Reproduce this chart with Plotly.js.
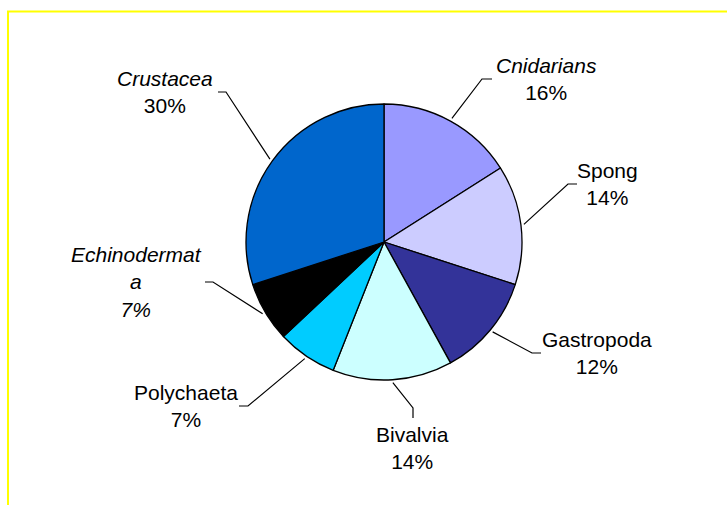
<!DOCTYPE html>
<html>
<head>
<meta charset="utf-8">
<script src="https://cdn.plot.ly/plotly-3.0.1.min.js"></script>
<style>html,body{margin:0;padding:0;background:#fff;}#chart{width:727px;height:505px;}</style>
</head>
<body>
<div id="chart"></div>
<script>
// ---- data ----
const categories = ["Cnidarians", "Spong", "Gastropoda", "Bivalvia", "Polychaeta", "Echinodermata", "Crustacea"];
const values = [16, 14, 12, 14, 7, 7, 30];
const percentLabels = ["16%", "14%", "12%", "14%", "7%", "7%", "30%"];
const displayNames = ["Cnidarians", "Spong", "Gastropoda", "Bivalvia", "Polychaeta", "Echinodermat<br>a", "Crustacea"];
const italicFlags = [true, false, false, false, false, true, true];
const italicPercent = [false, false, false, false, false, true, false];

// ---- style ----
const colors = ["#9999FF", "#CCCCFF", "#333399", "#CCFFFF", "#00CCFF", "#000000", "#0066CC"];
const W = 727, H = 505;
const cx = 384, cy = 242, R = 138;
// label placement (pixels): text centre x, elbow point, and end of short tick
const labelLayout = [
  {tx: 546, elbow: [482, 79], tick: [492, 79]},
  {tx: 607, elbow: [568, 184], tick: [577, 184]},
  {tx: 597, elbow: [532, 353], tick: [541, 353]},
  {tx: 412, elbow: [413, 408], tick: [413, 418], below: true},
  {tx: 186, elbow: [248, 406], tick: [239, 406]},
  {tx: 136, elbow: [213, 282], tick: [205, 282]},
  {tx: 165, elbow: [226, 92], tick: [218, 92]}
];

const px = x => x / W;
const py = y => 1 - y / H;

const total = values.reduce((a, b) => a + b, 0);
let cum = 0;
const shapes = [];
const annotations = [];
values.forEach((v, i) => {
  const mid = (cum + v / 2) / total * 2 * Math.PI;
  cum += v;
  const ex = cx + (R + 3) * Math.sin(mid);
  const ey = cy - (R + 3) * Math.cos(mid);
  const L = labelLayout[i];
  shapes.push({
    type: "path", xref: "paper", yref: "paper",
    path: `M ${px(ex)} ${py(ey)} L ${px(L.elbow[0])} ${py(L.elbow[1])} L ${px(L.tick[0])} ${py(L.tick[1])}`,
    line: {color: "#000", width: 1.2}
  });
  let name = italicFlags[i] ? `<i>${displayNames[i]}</i>` : displayNames[i];
  let pct = italicPercent[i] ? `<i>${percentLabels[i]}</i>` : percentLabels[i];
  if (italicFlags[i] && italicPercent[i]) name = `<i>${displayNames[i]}<br>${percentLabels[i]}</i>`, pct = null;
  const text = pct === null ? name : name + "<br>" + pct;
  annotations.push({
    xref: "paper", yref: "paper",
    x: px(L.tx),
    y: L.below ? py(L.tick[1] + 3) : py(L.elbow[1]),
    xanchor: "center",
    yanchor: L.below ? "top" : "middle",
    text: text, showarrow: false, align: "center",
    font: {family: "Liberation Sans, Arial, sans-serif", size: 21, color: "#000"}
  });
});

// yellow frame
shapes.push({
  type: "rect", xref: "paper", yref: "paper",
  x0: px(8), y0: py(520), x1: px(740), y1: py(11.5),
  line: {color: "#FFFF00", width: 2}, fillcolor: "rgba(0,0,0,0)", layer: "below"
});

const trace = {
  type: "pie",
  labels: categories,
  values: values,
  sort: false,
  direction: "clockwise",
  rotation: 0,
  textinfo: "none",
  hoverinfo: "label+percent",
  marker: {colors: colors, line: {color: "#000", width: 1.3}},
  domain: {x: [px(cx - R), px(cx + R)], y: [py(cy + R), py(cy - R)]},
  showlegend: false
};

Plotly.newPlot("chart", [trace], {
  width: W, height: H,
  margin: {l: 0, r: 0, t: 0, b: 0},
  paper_bgcolor: "#fff",
  showlegend: false,
  shapes: shapes,
  annotations: annotations
}, {staticPlot: true});
</script>
</body>
</html>
